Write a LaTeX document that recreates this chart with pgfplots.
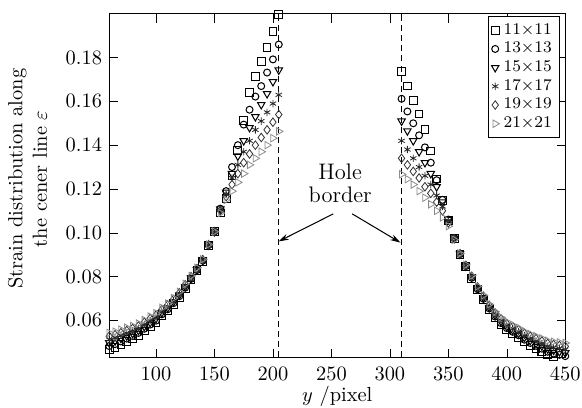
\documentclass[border=0pt]{standalone}
\usepackage{pgfplots}
\usepackage{pgfplotstable}
\pgfplotsset{compat=1.18}
\usetikzlibrary{arrows.meta}
\begin{document}
\begin{tikzpicture}
\pgfplotstableread{
x sq ci tri star dia rtri
60 0.0467 0.0482 0.0497 0.0512 0.0527 0.0542
65 0.0477 0.0491 0.0505 0.0520 0.0534 0.0548
70 0.0490 0.0503 0.0517 0.0530 0.0543 0.0557
75 0.0503 0.0516 0.0528 0.0541 0.0553 0.0566
80 0.0516 0.0528 0.0539 0.0551 0.0563 0.0574
85 0.0531 0.0542 0.0553 0.0563 0.0574 0.0585
90 0.0551 0.0561 0.0571 0.0581 0.0591 0.0601
95 0.0571 0.0580 0.0589 0.0599 0.0608 0.0617
100 0.0590 0.0598 0.0607 0.0615 0.0623 0.0632
105 0.0619 0.0627 0.0634 0.0642 0.0649 0.0657
110 0.0643 0.0650 0.0656 0.0663 0.0670 0.0676
115 0.0672 0.0678 0.0684 0.0689 0.0695 0.0701
120 0.0705 0.0710 0.0715 0.0720 0.0725 0.0730
125 0.0745 0.0749 0.0753 0.0758 0.0762 0.0766
130 0.0786 0.0789 0.0793 0.0796 0.0799 0.0803
135 0.0826 0.0829 0.0831 0.0834 0.0836 0.0839
140 0.0870 0.0872 0.0873 0.0875 0.0877 0.0878
145 0.0942 0.0943 0.0944 0.0944 0.0945 0.0946
150 0.1005 0.1005 0.1005 0.1005 0.1005 0.1005
155 0.1090 0.1110 0.1108 0.1105 0.1100 0.1090
160 0.1155 0.1190 0.1185 0.1175 0.1165 0.1150
165 0.1260 0.1300 0.1270 0.1250 0.1220 0.1190
170 0.1374 0.1400 0.1350 0.1310 0.1270 0.1230
175 0.1513 0.1494 0.1420 0.1370 0.1320 0.1270
180 0.1640 0.1562 0.1480 0.1420 0.1360 0.1310
185 0.1715 0.1622 0.1530 0.1470 0.1400 0.1340
190 0.1783 0.1670 0.1585 0.1510 0.1435 0.1370
195 0.1845 0.1732 0.1635 0.1550 0.1470 0.1400
200 0.1919 0.1792 0.1690 0.1590 0.1505 0.1432
205 0.1996 0.1860 0.1743 0.1630 0.1540 0.1463
310 0.1738 0.1612 0.1510 0.1420 0.1340 0.1267
315 0.1670 0.1554 0.1465 0.1380 0.1310 0.1245
320 0.1604 0.1500 0.1420 0.1340 0.1280 0.1220
325 0.1542 0.1445 0.1370 0.1300 0.1250 0.1190
330 0.1471 0.1390 0.1320 0.1260 0.1210 0.1160
335 0.1373 0.1320 0.1270 0.1220 0.1180 0.1130
340 0.1245 0.1240 0.1210 0.1170 0.1140 0.1100
345 0.1147 0.1150 0.1140 0.1120 0.1100 0.1070
350 0.1056 0.1060 0.1060 0.1055 0.1045 0.1030
355 0.0973 0.0975 0.0975 0.0975 0.0972 0.0968
360 0.0901 0.0902 0.0903 0.0903 0.0904 0.0905
365 0.0845 0.0847 0.0848 0.0850 0.0851 0.0853
370 0.0792 0.0794 0.0797 0.0799 0.0801 0.0804
375 0.0739 0.0742 0.0745 0.0748 0.0752 0.0755
380 0.0694 0.0698 0.0702 0.0706 0.0710 0.0714
385 0.0649 0.0654 0.0658 0.0663 0.0668 0.0673
390 0.0611 0.0617 0.0622 0.0628 0.0633 0.0639
395 0.0581 0.0587 0.0594 0.0600 0.0606 0.0613
400 0.0557 0.0564 0.0571 0.0578 0.0585 0.0593
405 0.0539 0.0547 0.0555 0.0563 0.0571 0.0578
410 0.0522 0.0531 0.0539 0.0548 0.0557 0.0565
415 0.0502 0.0511 0.0521 0.0530 0.0540 0.0549
420 0.0486 0.0496 0.0507 0.0517 0.0527 0.0537
425 0.0472 0.0483 0.0494 0.0505 0.0516 0.0527
430 0.0458 0.0470 0.0482 0.0494 0.0505 0.0517
435 0.0443 0.0456 0.0468 0.0481 0.0494 0.0506
440 0.0435 0.0448 0.0462 0.0475 0.0489 0.0502
445 0.0428 0.0442 0.0456 0.0471 0.0485 0.0499
450 0.0421 0.0436 0.0451 0.0466 0.0481 0.0496
}\datatab
\begin{axis}[
  scale only axis, width=223.4pt, height=168.3pt,
  xmin=60, xmax=450, ymin=0.043, ymax=0.2,
  xtick={100,150,200,250,300,350,400,450},
  ytick={0.06,0.08,0.10,0.12,0.14,0.16,0.18},
  yticklabel style={/pgf/number format/fixed, /pgf/number format/fixed zerofill, /pgf/number format/precision=2},
  xticklabel style={yshift=-1.5pt},
  xlabel={$y$ /pixel},
  ylabel={Strain distribution along\\ the cener line $\varepsilon$},
  ylabel style={align=center, at={(axis description cs:-0.179,0.52)}, anchor=center},
  xlabel style={at={(axis description cs:0.5,-0.112)}, anchor=center},
  legend style={at={(0.987,0.994)}, anchor=north east, font=\footnotesize, row sep=-1.5pt, inner sep=1.5pt, draw=black},
  legend cell align=left,
  tick style={black},
]
\addplot[only marks, mark=square, mark size=1.9pt, black, line width=0.5pt] table[x=x,y=sq]{\datatab};
\addplot[only marks, mark=o, mark size=1.7pt, black, line width=0.5pt] table[x=x,y=ci]{\datatab};
\addplot[only marks, mark=triangle, mark size=2.1pt, mark options={rotate=180}, black, line width=0.5pt] table[x=x,y=tri]{\datatab};
\addplot[only marks, mark=asterisk, mark size=1.8pt, black!85, line width=0.4pt] table[x=x,y=star]{\datatab};
\addplot[only marks, mark=diamond, mark size=2.1pt, black!80, line width=0.4pt] table[x=x,y=dia]{\datatab};
\addplot[only marks, mark=triangle, mark size=2.1pt, mark options={rotate=-90}, black!45, line width=0.4pt] table[x=x,y=rtri]{\datatab};
\legend{$11{\times}11$,$13{\times}13$,$15{\times}15$,$17{\times}17$,$19{\times}19$,$21{\times}21$}
\draw[densely dashed, line width=0.5pt] (axis cs:205,0.043) -- (axis cs:205,0.2);
\draw[densely dashed, line width=0.5pt] (axis cs:310,0.043) -- (axis cs:310,0.2);
\node[align=center, font=\fontsize{11}{11}\selectfont, inner sep=0pt] at (axis cs:257.5,0.1225) {Hole\\border};
\draw[-{Stealth[length=5pt,width=3pt]}, line width=0.5pt] (axis cs:251.6,0.1086) -- (axis cs:204.8,0.096);
\draw[-{Stealth[length=5pt,width=3pt]}, line width=0.5pt] (axis cs:267.8,0.1086) -- (axis cs:309,0.0955);
\coordinate (ll) at (rel axis cs:0,0);
\coordinate (ur) at (rel axis cs:1,1);
\end{axis}
\pgfresetboundingbox
\path ([shift={(-53.5pt,-24.4pt)}]ll) rectangle ([shift={(8.2pt,6.8pt)}]ur);
\end{tikzpicture}
\end{document}
